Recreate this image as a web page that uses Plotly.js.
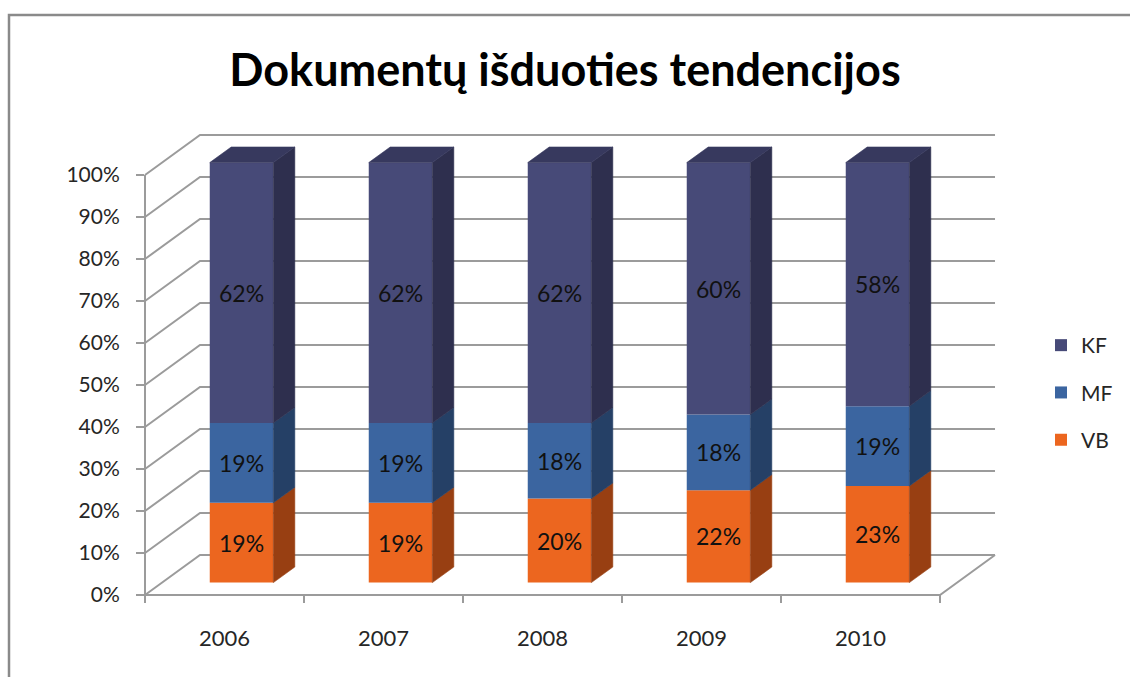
<!DOCTYPE html>
<html>
<head>
<meta charset="utf-8">
<script src="https://cdn.plot.ly/plotly-3.0.1.min.js"></script>
<style>html,body{margin:0;padding:0;background:#fff;}#chart{width:1130px;height:677px;}</style>
</head>
<body>
<div id="chart"></div>
<script>
// ---- data ----
const years = ['2006', '2007', '2008', '2009', '2010'];
const vb = [19, 19, 20, 22, 23];
const mf = [19, 19, 18, 18, 19];
const kf = [62, 62, 62, 60, 58];
const yTickVals = [0, 10, 20, 30, 40, 50, 60, 70, 80, 90, 100];
const yTickText = yTickVals.map(v => v + '%');
const chartTitle = 'Dokumentų išduoties tendencijos';

// ---- 3D projection helpers (front plane coords -> data coords) ----
const DX = 0.346;   // category units per unit depth
const DY = 9.52;    // percent per unit depth
const dFront = 0.31, dBack = 0.70, barW = 0.4;
function proj(c, v, d) { return [c + d * DX, v + d * DY]; }

const idx = years.map((_, i) => i);
const series = [
  { name: 'VB', vals: vb, front: '#EC661F', side: '#983F12', rank: 3 },
  { name: 'MF', vals: mf, front: '#3B65A0', side: '#254066', rank: 2 },
  { name: 'KF', vals: kf, front: '#474A78', side: '#2E2F4E', top: '#37395E', rank: 1 }
];

const traces = [];
const cum = idx.map(() => 0);
const font = 'Lato, "Open Sans", sans-serif';
series.forEach(s => {
  const lo = cum.slice();
  const hi = lo.map((b, i) => b + s.vals[i]);
  traces.push({
    type: 'bar', name: s.name, legendgroup: s.name, legendrank: s.rank,
    x: idx.map(i => proj(i, 0, dFront)[0]),
    y: s.vals,
    base: lo.map(b => proj(0, b, dFront)[1]),
    width: barW,
    marker: { color: s.front, line: { width: 0 } },
    text: s.vals.map(v => v + '%'),
    textposition: 'inside', insidetextanchor: 'middle',
    textfont: { family: font, size: 23, color: '#111111' },
    hoverinfo: 'skip', cliponaxis: false
  });
  // right side faces
  const sx = [], sy = [];
  idx.forEach(i => {
    const xr = i + barW / 2;
    [[xr, lo[i], dFront], [xr, hi[i], dFront], [xr, hi[i], dBack], [xr, lo[i], dBack], [xr, lo[i], dFront]].forEach(p => {
      const q = proj(p[0], p[1], p[2]); sx.push(q[0]); sy.push(q[1]);
    });
    sx.push(null); sy.push(null);
  });
  traces.push({
    type: 'scatter', mode: 'lines', x: sx, y: sy, fill: 'toself',
    fillcolor: s.side, line: { width: 0.6, color: s.side },
    showlegend: false, hoverinfo: 'skip', cliponaxis: false
  });
  if (s.top) {
    const tx = [], ty = [];
    idx.forEach(i => {
      const xl = i - barW / 2, xr = i + barW / 2;
      [[xl, hi[i], dFront], [xr, hi[i], dFront], [xr, hi[i], dBack], [xl, hi[i], dBack], [xl, hi[i], dFront]].forEach(p => {
        const q = proj(p[0], p[1], p[2]); tx.push(q[0]); ty.push(q[1]);
      });
      tx.push(null); ty.push(null);
    });
    traces.push({
      type: 'scatter', mode: 'lines', x: tx, y: ty, fill: 'toself',
      fillcolor: s.top, line: { width: 0.6, color: s.top },
      showlegend: false, hoverinfo: 'skip', cliponaxis: false
    });
  }
  idx.forEach(i => { cum[i] = hi[i]; });
});

// dummy trace to carry the front-plane percent axis
traces.push({ type: 'scatter', x: [null], y: [null], xaxis: 'x', yaxis: 'y2', showlegend: false, hoverinfo: 'skip' });

// ---- walls, gridlines, floor ----
const gridColor = '#9b9b9b';
const shapes = [];
const cMin = -0.5, cMax = years.length - 0.5;
function pt(p) { return p[0] + ',' + p[1]; }
yTickVals.forEach(v => {
  shapes.push({
    type: 'path', xref: 'x', yref: 'y', layer: 'below',
    path: 'M' + pt(proj(cMin, v, 0)) + ' L' + pt(proj(cMin, v, 1)) + ' L' + pt(proj(cMax, v, 1)),
    line: { color: gridColor, width: 2 }
  });
});
shapes.push({
  type: 'path', xref: 'x', yref: 'y', layer: 'below',
  path: 'M' + pt(proj(cMin, 0, 0)) + ' L' + pt(proj(cMax, 0, 0)) + ' L' + pt(proj(cMax, 0, 1)),
  line: { color: gridColor, width: 2 }
});
const tickLenPct = 8 / 4.2;
for (let k = 0; k <= years.length; k++) {
  const c = cMin + k;
  const a = proj(c, 0, 0);
  shapes.push({
    type: 'line', xref: 'x', yref: 'y', layer: 'below',
    x0: a[0], y0: a[1], x1: a[0], y1: a[1] - tickLenPct,
    line: { color: gridColor, width: 2 }
  });
}
const W = 1130, H = 677;
// outer frame: only its top and left edges fall inside the picture
const fx = 9 / W, fy = 1 - 15 / H;
shapes.push({
  type: 'path', xref: 'paper', yref: 'paper',
  path: 'M' + fx + ',-0.05 L' + fx + ',' + fy + ' L1.05,' + fy,
  line: { color: '#8a8a8a', width: 2.5 }
});

const layout = {
  width: W, height: H,
  margin: { l: 0, r: 0, t: 0, b: 0 },
  paper_bgcolor: '#ffffff', plot_bgcolor: 'rgba(0,0,0,0)',
  barmode: 'overlay',
  showlegend: true,
  title: {
    text: chartTitle, x: 565 / W, xanchor: 'center', y: 1 - 70 / H, yanchor: 'middle',
    font: { family: font, size: 45, weight: 700, color: '#000000' }
  },
  xaxis: {
    range: [-224.5 / 159, (W - 224.5) / 159],
    tickvals: idx, ticktext: years,
    ticks: '', showline: false, showgrid: false, zeroline: false,
    tickfont: { family: font, size: 22, color: '#262626' },
    ticklabelstandoff: 13, fixedrange: true
  },
  yaxis: {
    domain: [1 - 610 / H, 1],
    range: [(595 - 610) / 4.2, 595 / 4.2],
    showticklabels: false, ticks: '', showline: false, showgrid: false, zeroline: false,
    fixedrange: true
  },
  yaxis2: {
    domain: [1 - 595 / H, 1 - 175 / H],
    range: [0, 100],
    anchor: 'free', position: 145 / W, side: 'left',
    tickvals: yTickVals, ticktext: yTickText,
    ticks: 'outside', ticklen: 8, tickwidth: 2, tickcolor: gridColor,
    showline: true, linecolor: gridColor, linewidth: 2,
    showgrid: false, zeroline: false,
    tickfont: { family: font, size: 21, color: '#262626' },
    ticklabelstandoff: 12, fixedrange: true
  },
  legend: {
    x: 1041 / W, xanchor: 'left', y: 1 - 325 / H, yanchor: 'top',
    traceorder: 'grouped', tracegroupgap: 17,
    font: { family: font, size: 21, color: '#262626' },
    bgcolor: 'rgba(0,0,0,0)'
  },
  shapes: shapes
};

Plotly.newPlot('chart', traces, layout, { displayModeBar: false, staticPlot: true });
</script>
</body>
</html>
